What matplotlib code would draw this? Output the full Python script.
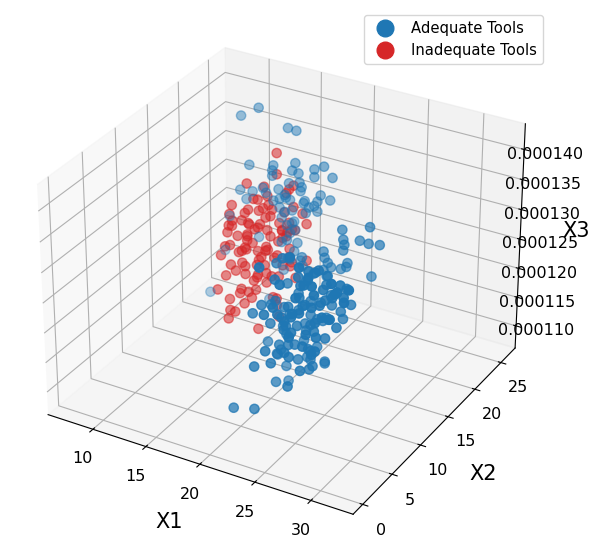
import numpy as np
import matplotlib
matplotlib.use("Agg")
import matplotlib.pyplot as plt
from matplotlib.lines import Line2D
from matplotlib.ticker import FormatStrFormatter

# Adequate tools (blue); X3 given in units of 1e-6
x1_adequate = [
    9.4, 11.1, 13.9, 14.7, 11.3, 13.6, 13.5, 13.5, 15.7, 15.4, 16.0, 17.5, 17.5, 18.4, 19.2, 15.1,
    16.1, 16.3, 16.2, 10.4, 11.0, 11.6, 12.6, 12.9, 14.1, 14.7, 14.2, 13.6, 15.2, 16.6, 17.0, 16.7,
    17.5, 17.8, 18.1, 17.8, 19.0, 8.2, 14.2, 14.7, 15.4, 14.4, 15.4, 15.7, 7.7, 12.2, 8.5, 14.3,
    16.1, 15.5, 17.0, 16.7, 16.0, 15.2, 15.6, 14.9, 14.8, 16.5, 17.3, 17.5, 15.7, 16.3,
    23.3, 25.8, 26.7, 23.4, 23.5, 24.9, 25.7, 23.4, 21.6, 21.7, 22.0, 20.7, 21.6, 23.2, 23.7, 26.0,
    23.8, 19.6, 22.3, 21.9,
    23.3, 21.1, 25.6, 22.6, 22.1, 24.7, 21.4, 20.6, 23.3, 20.6, 21.0, 24.1, 23.2, 21.7, 25.1, 23.4,
    22.2, 25.7, 23.8, 20.3, 23.4, 22.8, 21.5, 25.5, 24.7, 23.9, 26.5, 25.7, 22.0, 22.4, 22.7, 22.2,
    25.4, 26.0, 25.5, 27.5, 25.6, 24.8, 27.9, 24.6, 23.8, 27.0, 25.8, 23.1, 26.4, 25.3, 24.8, 28.4,
    24.8, 24.2, 27.7, 27.1, 26.1, 27.5, 26.9, 26.0, 29.5, 28.7, 27.8, 30.7, 24.7, 23.9, 27.2, 26.5,
    25.7, 29.2, 28.4, 27.4, 26.4, 25.6, 25.6, 29.0, 28.1, 27.1, 22.9, 22.2, 22.3, 25.7, 26.2, 25.6,
    29.7, 27.7, 25.1, 26.8, 24.9, 23.1, 26.1, 25.1, 24.2, 27.5, 26.6, 26.9, 30.3, 27.5, 25.3, 27.8,
    26.1, 23.7, 25.8, 23.8, 21.8, 24.5, 23.6, 22.0, 25.5, 24.4, 23.6, 26.7, 25.8, 24.2, 27.8, 27.1,
    25.5, 25.1, 23.0, 21.2, 23.9, 20.5, 22.4,
]
x2_adequate = [
    24, 24, 24, 24, 22, 22, 22, 22, 22, 22, 22, 22, 22, 22, 22, 22,
    22, 22, 22, 22, 22, 22, 22, 22, 22, 22, 22, 22, 22, 22, 22, 22,
    22, 22, 22, 22, 22, 24, 22, 22, 22, 22, 22, 22, 24, 22, 20, 20,
    20, 20, 20, 20, 20, 22, 22, 22, 22, 22, 20, 20, 20, 20,
    16, 16, 16, 16, 16, 16, 16, 16, 16, 16, 16, 16, 16, 16, 16, 16,
    16, 16, 16, 16,
    6, 9, 3, 6, 9, 3, 6, 9, 3, 6, 9, 3, 6, 9, 3, 6,
    9, 3, 6, 9, 3, 6, 9, 3, 6, 9, 3, 6, 9, 3, 6, 9,
    3, 6, 9, 3, 6, 9, 3, 6, 9, 3, 6, 9, 3, 6, 9, 3,
    6, 9, 3, 6, 9, 3, 6, 9, 3, 6, 9, 3, 6, 9, 3, 6,
    9, 3, 6, 9, 3, 6, 9, 3, 6, 9, 3, 6, 9, 3, 6, 9,
    3, 6, 9, 3, 6, 9, 3, 6, 9, 3, 6, 9, 3, 6, 9, 3,
    6, 9, 3, 6, 9, 3, 6, 9, 3, 6, 9, 3, 6, 9, 3, 6,
    9, 3, 6, 9, 3, 3, 3,
]
x3_adequate = [
    137.2, 139.3, 137.2, 137.1, 131.3, 132.3, 131.4, 130.5, 133.7, 132.3, 132.1, 133.5, 132.2, 134.4, 132.9, 130.0,
    130.6, 129.9, 129.2, 126.6, 125.3, 126.9, 128.0, 127.3, 128.5, 127.8, 126.9, 126.3, 127.2, 127.7, 126.8, 125.7,
    127.3, 128.2, 129.4, 126.5, 129.0, 119.3, 125.4, 124.9, 125.5, 123.8, 123.3, 122.3, 113.0, 119.3, 109.4, 111.2,
    119.4, 121.8, 122.4, 120.8, 122.4, 121.5, 123.7, 122.7, 127.4, 127.3, 119.5, 118.7, 117.1, 119.2,
    131.2, 132.9, 130.4, 129.6, 128.8, 130.2, 130.1, 127.8, 126.7, 125.7, 125.0, 122.5, 123.6, 124.6, 125.2, 124.8,
    125.9, 124.7, 124.4, 122.7,
    135.0, 130.5, 138.9, 131.2, 127.7, 134.1, 126.4, 123.4, 128.5, 124.6, 124.2, 130.1, 125.3, 120.4, 128.4, 123.4,
    118.7, 126.9, 121.1, 117.0, 122.6, 119.1, 116.3, 122.8, 119.2, 116.4, 121.1, 118.1, 113.8, 119.5, 114.3, 111.4,
    117.9, 118.8, 116.2, 124.3, 121.4, 118.6, 127.3, 124.7, 120.8, 127.3, 125.5, 123.8, 130.4, 128.5, 123.2, 130.8,
    129.4, 125.9, 134.0, 130.2, 126.2, 135.3, 131.8, 127.8, 135.1, 131.5, 127.2, 136.4, 132.7, 129.1, 136.5, 134.7,
    130.8, 136.6, 133.3, 129.6, 137.7, 134.1, 123.9, 130.8, 126.3, 124.5, 135.9, 123.8, 122.7, 129.4, 134.2, 129.3,
    135.5, 130.9, 126.1, 135.1, 131.4, 126.6, 132.7, 128.2, 123.6, 131.9, 129.1, 125.6, 134.2, 127.3, 123.2, 129.6,
    124.6, 121.9, 130.0, 127.4, 123.6, 129.2, 124.1, 119.2, 126.1, 121.5, 119.0, 125.2, 121.2, 116.1, 125.0, 124.0,
    116.5, 123.3, 120.7, 115.3, 120.9, 111.5, 112.4,
]

# Inadequate tools (red); X3 given in units of 1e-6
x1_inadequate = [
    16.7, 16.7, 17.3, 17.2, 14.9, 17.9, 19.5, 12.2, 15.9, 19.9, 19.1, 17.4, 16.7, 16.1, 19.6, 21.1,
    12.0, 15.6, 15.1, 14.1, 17.4, 16.8, 15.8, 19.0, 18.6, 17.7, 21.4, 13.1, 12.3, 15.7, 14.8, 13.8,
    17.3, 16.6, 15.7, 19.2, 18.5, 17.9, 20.9, 14.5, 13.7, 17.1, 16.5, 15.7, 18.9, 19.6, 19.5, 15.3,
    13.5, 13.4, 16.8, 14.7, 13.9, 14.5, 13.9, 12.2, 15.5, 14.4, 13.3, 16.6, 15.7, 14.7, 17.9, 15.3,
    14.9, 18.2, 17.4, 16.2, 17.7, 18.0, 16.7, 20.0, 16.6, 16.9, 20.2, 20.1, 18.1, 19.9, 17.5, 15.4,
    17.1, 17.6, 17.2, 20.5, 18.9, 16.1, 18.3, 16.3, 13.9, 15.9, 14.2, 14.4, 17.1, 17.3, 15.0, 18.6,
    18.4, 17.9, 20.7, 19.5, 18.4, 19.8, 18.9, 17.6,
]
x2_inadequate = [
    17, 17, 11, 14, 17, 11, 14, 17, 11, 14, 17, 11, 14, 17, 11, 14,
    17, 11, 14, 17, 11, 14, 17, 11, 14, 17, 11, 14, 17, 11, 14, 17,
    11, 14, 17, 11, 14, 17, 11, 14, 17, 11, 14, 17, 11, 14, 17, 11,
    14, 17, 11, 14, 17, 11, 14, 17, 11, 14, 17, 11, 14, 17, 11, 14,
    17, 11, 14, 17, 11, 14, 17, 11, 14, 17, 11, 14, 17, 14, 14, 17,
    11, 14, 17, 11, 14, 17, 11, 14, 17, 11, 14, 17, 11, 14, 17, 11,
    14, 17, 11, 14, 17, 11, 14, 17,
]
x3_inadequate = [
    139.8, 136.3, 139.9, 136.9, 131.2, 137.7, 137.6, 127.4, 135.7, 134.9, 130.9, 135.7, 132.7, 129.0, 136.8, 132.7,
    124.2, 132.2, 130.3, 126.6, 133.5, 130.5, 126.5, 135.2, 131.6, 127.1, 134.5, 123.4, 118.8, 129.0, 124.8, 122.2,
    130.6, 125.9, 123.6, 130.0, 128.5, 124.4, 133.1, 121.5, 117.9, 126.2, 123.5, 119.1, 127.3, 124.9, 123.2, 123.7,
    125.1, 119.7, 128.6, 127.5, 124.5, 120.9, 116.3, 110.8, 116.5, 114.4, 115.1, 121.4, 118.5, 115.7, 124.2, 116.3,
    118.4, 124.9, 121.0, 118.8, 121.2, 118.8, 114.1, 122.3, 112.6, 112.2, 126.1, 123.2, 122.2, 138.4, 135.5, 130.0,
    135.0, 134.1, 127.1, 133.9, 129.3, 125.6, 133.2, 129.4, 124.8, 132.3, 129.8, 123.6, 129.3, 126.3, 121.0, 128.5,
    126.1, 123.0, 136.9, 132.1, 127.8, 129.0, 124.7, 133.6,
]

labels = ["Adequate Tools", "Inadequate Tools"]
colors = ["#1f77b4", "#d62728"]

x1_ticks = [10, 15, 20, 25, 30]
x2_ticks = [0, 5, 10, 15, 20, 25]
x3_ticks = [0.000110, 0.000115, 0.000120, 0.000125, 0.000130, 0.000135, 0.000140]

fig = plt.figure(figsize=(5.94, 5.58), dpi=100)
ax = fig.add_axes([0.012, 0.017, 0.914, 0.973], projection="3d")

ax.scatter(x1_adequate, x2_adequate, np.array(x3_adequate) * 1e-6, c=colors[0], s=45)
ax.scatter(x1_inadequate, x2_inadequate, np.array(x3_inadequate) * 1e-6, c=colors[1], s=45,
           alpha=0.55)

ax.set_xlim(5.7, 33.7)
ax.set_ylim(-1.6, 27.8)
ax.set_zlim(0.0001061, 0.0001442)
ax.set_xticks(x1_ticks)
ax.set_yticks(x2_ticks)
ax.set_zticks(x3_ticks)
ax.zaxis.set_major_formatter(FormatStrFormatter("%.6f"))
ax.tick_params(labelsize=11.5)
ax.tick_params(axis="z", pad=1)
ax.set_xlabel("X1", fontsize=15, labelpad=9)
ax.set_ylabel("X2", fontsize=15, labelpad=9)
ax.set_zlabel("X3", fontsize=15)

handles = [Line2D([], [], marker="o", linestyle="none", color=c, markersize=12) for c in colors]
fig.legend(handles, labels, loc="upper right", bbox_to_anchor=(543 / 594, 1 - 15 / 558),
           borderaxespad=0, fontsize=10.6)

fig.savefig("out.png", dpi=100)
